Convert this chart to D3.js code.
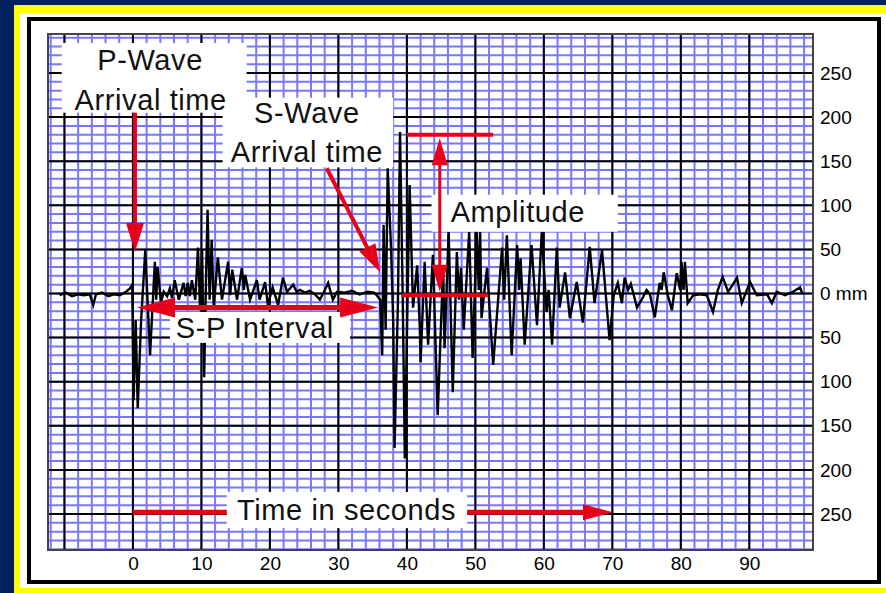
<!DOCTYPE html>
<html>
<head>
<meta charset="utf-8">
<script src="https://cdn.jsdelivr.net/npm/d3@7"></script>
<style>
  html, body { margin: 0; padding: 0; background: #03205e; }
  svg { display: block; }
  text { font-family: "Liberation Sans", Arial, sans-serif; }
</style>
</head>
<body>
<div id="seismogram"></div>
<script>
// seismogram trace (seconds, mm)
var traceSeconds = [
  -10.7, -9.8, -8.9, -8.0, -7.2, -6.3, -5.8, -5.4, -4.5, -3.6, -2.8, -1.9, -1.0, -0.4, -0.1,
  0.1, 0.4, 0.7, 1.2, 1.8, 2.5, 3.2, 3.4, 3.6, 4.1, 4.5, 5.0, 5.4, 5.7, 6.1, 6.7, 7.4, 7.7, 8.0,
  8.3, 8.6, 9.1, 9.5, 9.8, 10.1, 10.4, 10.7, 10.9, 11.2, 11.5, 11.8, 12.4, 13.0, 13.9, 14.2, 14.5,
  15.2, 15.9, 16.2, 16.4, 17.1, 18.1, 18.5, 19.3, 19.7, 20.4, 21.2, 21.9, 22.5, 23.4, 23.9, 24.4,
  25.1, 25.8, 26.6, 27.3, 27.9, 28.5, 29.2, 29.8, 30.9, 32.0, 33.1, 34.3, 35.2, 35.6,
  36.1, 36.4, 36.6, 36.9, 37.2, 37.7, 38.0, 38.2, 38.7, 39.0, 39.4, 39.7, 40.1, 40.4, 40.9, 41.5,
  41.9, 42.0, 42.6, 43.1, 43.8, 44.5, 45.3, 45.5, 46.1, 46.7, 47.3, 47.6, 47.9, 48.3, 49.1, 49.6,
  50.2, 50.5, 50.7, 50.9, 51.7, 52.6, 53.1, 53.9, 54.2, 54.6, 55.3, 56.1, 56.4, 56.6, 57.2, 58.2,
  59.0, 59.7, 60.4, 60.7, 61.2, 61.9, 62.3, 63.1, 63.8, 64.8, 65.7, 66.7, 67.4, 68.5, 69.1, 69.6,
  70.2, 70.8, 71.4, 71.8, 72.3, 72.7, 73.6, 74.5, 75.0, 75.5, 76.2, 76.9, 77.2, 77.5, 78.1, 78.7,
  79.4, 79.9, 80.1, 80.4, 80.6, 81.0, 81.8, 82.8, 83.8, 84.7, 85.4, 86.1, 86.9, 87.6, 88.2, 88.9,
  90.1, 91.1, 92.6, 93.3, 94.0, 95.2, 96.4, 97.4, 97.8
];
var traceMm = [
  -2, 1, -3, -1, -2, -1, -13, -1, 1, -3, -1, -2, 2, 6, 10,
  -121, -30, -130, -30, 49, -70, 36, -7, 30, -10, 2, -3, 6, -5, 15, -7, 12, -3, 12,
  -3, 15, -7, 52, -19, 49, -95, 27, 95, -7, 61, -15, 41, -7, 36, -2, 27,
  -7, 29, 4, 21, -7, 15, -7, 13, -13, 7, -13, 18, 2, 10, 2, 4,
  1, 3, -1, -7, 2, 12, -7, 2, 1, 3, -1, 2, 1, -2,
  -7, -70, 78, -41, 142, 49, -30, -175, -7, 183, -7, -187, -7, 123, -16, 32,
  -41, -78, 36, -58, 44, -138, 32, -62, 70, -112, 47, -7, 29, -41, 70, -73,
  70, 4, 70, -28, 29, -81, -30, 52, -7, 66, -70, 55, 4, 40, -58, 55,
  -36, 70, -21, 4, -58, 52, -16, 24, -28, 13, -33, 53, -11, 49, -7, -53,
  -2, 12, -11, 18, 4, 11, -16, -4, 4, -1, -27, 12, 4, 24, -2, -19,
  23, 4, 36, 4, 36, -11, -2, -1, -2, -21, 4, 19, 2, 10, 18, -11,
  13, -2, -1, -11, 2, -2, 2, 7, -1
];
var secondTicks = [0, 10, 20, 30, 40, 50, 60, 70, 80, 90];
var mmTicks = [250, 200, 150, 100, 50, 0, -50, -100, -150, -200, -250];

var width = 886, height = 593;
var plot = {left: 48, top: 34, right: 813, bottom: 550};
var red = '#e6001a';

var x = d3.scaleLinear().domain([-12.4, 99.3]).range([plot.left, plot.right]);
var y = d3.scaleLinear().domain([-290.8, 294.2]).range([plot.bottom, plot.top]);

var svg = d3.select('#seismogram').append('svg')
    .attr('width', width)
    .attr('height', height);

// yellow / white frame round the chart
svg.append('rect').attr('x', 14).attr('y', 5).attr('width', width).attr('height', height).attr('fill', '#ffff00');
svg.append('rect').attr('x', 20).attr('y', 13).attr('width', width).attr('height', 575).attr('fill', '#fff');
svg.append('rect').attr('x', 29).attr('y', 19).attr('width', 850).attr('height', 563)
    .attr('fill', 'none').attr('stroke', '#000').attr('stroke-width', 4);

svg.append('clipPath').attr('id', 'plotClip').append('rect')
    .attr('x', plot.left).attr('y', plot.top)
    .attr('width', plot.right - plot.left).attr('height', plot.bottom - plot.top);

var grid = svg.append('g').attr('clip-path', 'url(#plotClip)');
grid.append('rect')
    .attr('x', plot.left).attr('y', plot.top)
    .attr('width', plot.right - plot.left).attr('height', plot.bottom - plot.top)
    .attr('fill', '#fff');

var minorX = d3.range(-12, 99.5, 2), minorY = d3.range(-290, 295, 10);
var majorX = d3.range(-10, 99.5, 10), majorY = d3.range(-250, 251, 50);

grid.selectAll('.minor-x').data(minorX).join('line')
    .attr('x1', d => x(d)).attr('x2', d => x(d))
    .attr('y1', plot.top).attr('y2', plot.bottom)
    .attr('stroke', '#7878ff').attr('stroke-width', 2);
grid.selectAll('.minor-y').data(minorY).join('line')
    .attr('y1', d => y(d)).attr('y2', d => y(d))
    .attr('x1', plot.left).attr('x2', plot.right)
    .attr('stroke', '#7878ff').attr('stroke-width', 2);
grid.selectAll('.major-x').data(majorX).join('line')
    .attr('x1', d => x(d)).attr('x2', d => x(d))
    .attr('y1', plot.top).attr('y2', plot.bottom)
    .attr('stroke', '#000').attr('stroke-width', 2);
grid.selectAll('.major-y').data(majorY).join('line')
    .attr('y1', d => y(d)).attr('y2', d => y(d))
    .attr('x1', plot.left).attr('x2', plot.right)
    .attr('stroke', '#000').attr('stroke-width', 2);

// the trace
var points = traceSeconds.map((t, i) => [t, traceMm[i]]);
grid.append('path')
    .datum(points)
    .attr('fill', 'none')
    .attr('stroke', '#000')
    .attr('stroke-width', 2.4)
    .attr('stroke-linejoin', 'miter')
    .attr('d', d3.line().x(d => x(d[0])).y(d => y(d[1])));

svg.append('rect')
    .attr('x', plot.left).attr('y', plot.top)
    .attr('width', plot.right - plot.left).attr('height', plot.bottom - plot.top)
    .attr('fill', 'none').attr('stroke', '#444').attr('stroke-width', 2);

// white label boxes, in data units
var boxes = [
  {t0: -10.4, t1: 16.6, m0: 205, m1: 284},
  {t0: 13.1, t1: 38.0, m0: 143, m1: 222},
  {t0: 43.6, t1: 70.8, m0: 70, m1: 112},
  {t0: 5.4, t1: 31.7, m0: -56, m1: -21},
  {t0: 13.7, t1: 48.8, m0: -266, m1: -225}
];
svg.selectAll('.box').data(boxes).join('rect')
    .attr('x', d => x(d.t0)).attr('y', d => y(d.m1))
    .attr('width', d => x(d.t1) - x(d.t0)).attr('height', d => y(d.m0) - y(d.m1))
    .attr('fill', '#fff');

var notes = [
  {text: 'P-Wave', t: 2.5, m: 253},
  {text: 'Arrival time', t: 2.6, m: 208},
  {text: 'S-Wave', t: 25.4, m: 193},
  {text: 'Arrival time', t: 25.4, m: 149},
  {text: 'Amplitude', t: 56.2, m: 81},
  {text: 'S-P Interval', t: 17.8, m: -50},
  {text: 'Time in seconds', t: 31.2, m: -257}
];
svg.selectAll('.note').data(notes).join('text')
    .attr('x', d => x(d.t)).attr('y', d => y(d.m))
    .attr('text-anchor', 'middle')
    .attr('font-size', 29)
    .attr('letter-spacing', 0.6)
    .attr('fill', '#111')
    .text(d => d.text);

// red arrows
var arrows = svg.append('g');
var seg = function(t0, m0, t1, m1, w) {
  arrows.append('line')
      .attr('x1', x(t0)).attr('y1', y(m0)).attr('x2', x(t1)).attr('y2', y(m1))
      .attr('stroke', red).attr('stroke-width', w);
};
var head = function(tTail, mTail, tTip, mTip, len, half) {
  var x0 = x(tTail), y0 = y(mTail), x1 = x(tTip), y1 = y(mTip);
  var a = Math.atan2(y1 - y0, x1 - x0);
  var bx = x1 - len * Math.cos(a), by = y1 - len * Math.sin(a);
  var px = -Math.sin(a) * half, py = Math.cos(a) * half;
  arrows.append('path')
      .attr('d', 'M' + x1 + ',' + y1 + 'L' + (bx + px) + ',' + (by + py) + 'L' + (bx - px) + ',' + (by - py) + 'Z')
      .attr('fill', red);
};

// P-wave arrival
seg(0.3, 205, 0.3, 60, 4);
head(0.3, 205, 0.3, 47, 29, 9);
// S-wave arrival
seg(28.3, 142, 35.2, 37, 4);
head(28.3, 142, 36.1, 24, 28, 9);
// S-P interval
seg(4, -16, 32, -16, 5);
head(18, -16, 0.6, -16, 38, 10);
head(18, -16, 35.8, -16, 38, 10);
// amplitude
seg(40.0, 180, 52.6, 180, 4);
seg(39.3, -2, 51.8, -2, 4);
seg(44.8, 165, 44.8, 12, 3);
head(44.8, 90, 44.8, 176, 27, 8);
head(44.8, 90, 44.8, 2, 27, 8);
// time in seconds
seg(0, -248, 13.7, -248, 5);
seg(48.8, -248, 66, -248, 5);
head(48.8, -248, 70.1, -248, 30, 8);

// axis labels
var yAxis = svg.append('g')
    .attr('transform', 'translate(' + plot.right + ',0)')
    .call(d3.axisRight(y).tickValues(mmTicks).tickSize(0).tickPadding(7)
        .tickFormat(d => d === 0 ? '0 mm' : Math.abs(d)));
var xAxis = svg.append('g')
    .attr('transform', 'translate(0,' + plot.bottom + ')')
    .call(d3.axisBottom(x).tickValues(secondTicks).tickSize(0).tickPadding(7));
[xAxis, yAxis].forEach(function(ax) {
  ax.select('.domain').remove();
  ax.selectAll('text')
      .attr('font-family', '"Liberation Sans", Arial, sans-serif')
      .attr('font-size', 19)
      .attr('fill', '#000');
});
</script>
</body>
</html>
